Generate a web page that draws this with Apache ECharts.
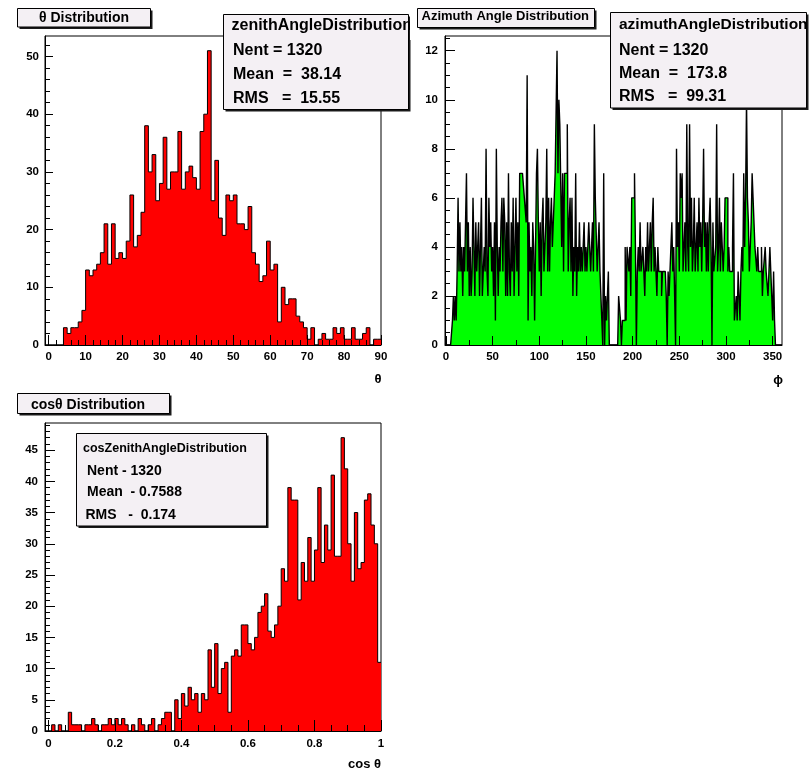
<!DOCTYPE html>
<html>
<head>
<meta charset="utf-8">
<title>Zenith and azimuth angle distributions</title>
<script src="https://cdn.jsdelivr.net/npm/echarts@6/dist/echarts.min.js"></script>
<style>
  html, body { margin: 0; padding: 0; background: #ffffff; }
  #chart { width: 812px; height: 770px; }
</style>
</head>
<body>
<div id="chart"></div>
<script>
// ---------------------------------------------------------------
// Histogram contents (one entry per bin, starting at the low edge)
// ---------------------------------------------------------------

// θ (zenith angle, degrees): 91 bins of 1° from -1 to 90
const thetaRange = [-1, 90];
const thetaBinWidth = 1;
const thetaCounts = [
  0,
  0, 0, 0, 0, 3, 2, 3, 3, 4, 6,
  13, 12, 13, 14, 16, 21, 14, 21, 15, 16,
  15, 18, 26, 17, 19, 23, 38, 30, 33, 25,
  28, 36, 27, 30, 30, 37, 27, 30, 31, 29,
  27, 37, 40, 51, 25, 32, 22, 19, 26, 25,
  26, 21, 21, 20, 24, 16, 14, 11, 12, 18,
  13, 14, 4, 10, 7, 8, 8, 5, 4, 3,
  1, 3, 0, 1, 2, 1, 1, 3, 2, 3,
  1, 1, 3, 1, 1, 2, 3, 0, 1, 1
];

// ϕ (azimuth angle, degrees): 361 bins of 1° from -1 to 360
const phiRange = [-1, 360];
const phiBinWidth = 1;
const phiCounts = [
  0,
  0, 0, 0, 0, 0, 0, 0, 1, 2, 1,
  2, 1, 3, 6, 3, 5, 3, 4, 2, 4,
  3, 5, 7, 3, 5, 2, 4, 2, 3, 6,
  4, 2, 5, 3, 4, 5, 2, 4, 6, 2,
  2, 4, 3, 8, 3, 2, 6, 4, 5, 3,
  4, 2, 5, 1, 8, 4, 2, 4, 3, 5,
  6, 3, 6, 5, 2, 5, 2, 7, 3, 2,
  5, 3, 6, 2, 4, 6, 3, 5, 2, 7,
  7, 7, 7, 7, 6, 6, 5, 11, 1, 5,
  3, 4, 2, 5, 4, 1, 4, 7, 8, 5,
  3, 5, 2, 5, 6, 3, 4, 5, 8, 3,
  6, 3, 5, 6, 4, 4, 6, 7, 7, 12,
  7, 10, 9, 9, 4, 7, 3, 7, 7, 7,
  9, 3, 5, 6, 3, 6, 2, 4, 3, 7,
  2, 4, 3, 5, 3, 4, 3, 4, 5, 3,
  4, 3, 3, 5, 4, 3, 4, 5, 3, 9,
  6, 6, 3, 4, 5, 3, 2, 2, 0, 7,
  0, 2, 1, 2, 3, 0, 0, 0, 0, 0,
  0, 0, 0, 0, 0, 2, 2, 1, 0, 1,
  1, 1, 4, 1, 4, 4, 3, 4, 2, 6,
  6, 6, 7, 4, 0, 3, 4, 3, 5, 3,
  3, 4, 3, 2, 4, 3, 5, 3, 4, 5,
  3, 5, 6, 3, 4, 3, 2, 4, 3, 3,
  3, 2, 3, 3, 3, 3, 2, 0, 3, 2,
  3, 3, 5, 3, 4, 2, 0, 8, 4, 5,
  3, 7, 6, 7, 3, 4, 5, 3, 9, 4,
  3, 9, 4, 6, 3, 4, 6, 3, 4, 5,
  3, 6, 4, 5, 3, 5, 8, 4, 5, 3,
  5, 3, 5, 6, 4, 0, 5, 3, 3, 4,
  9, 3, 4, 6, 3, 5, 4, 3, 4, 6,
  6, 6, 3, 4, 3, 3, 3, 4, 7, 1,
  1, 2, 1, 3, 2, 1, 3, 4, 3, 7,
  4, 6, 10, 6, 5, 3, 4, 5, 7, 6,
  6, 4, 4, 3, 4, 3, 3, 3, 4, 2,
  3, 3, 4, 3, 3, 2, 3, 4, 3, 3,
  1, 3, 1, 0, 0, 0, 0, 0, 0, 0
];

// cos θ: 101 bins of 0.01 from -0.01 to 1
const cosRange = [-0.01, 1];
const cosBinWidth = 0.01;
const cosCounts = [
  0,
  0, 1, 0, 1, 0, 0, 3, 1, 1, 1,
  0, 1, 1, 2, 1, 0, 1, 1, 2, 1,
  2, 1, 2, 1, 0, 1, 0, 2, 1, 0,
  1, 2, 0, 1, 2, 3, 3, 0, 5, 2,
  6, 4, 7, 5, 6, 3, 6, 5, 13, 7,
  14, 6, 10, 11, 3, 12, 13, 12, 17, 17,
  14, 13, 15, 19, 20, 22, 16, 15, 17, 20,
  26, 24, 39, 37, 37, 21, 27, 24, 31, 24,
  29, 39, 27, 33, 29, 41, 28, 28, 47, 42,
  30, 24, 35, 26, 27, 37, 38, 33, 30, 11
];

// Vertical ranges (1.05 × tallest bin) and axis ticks
const thetaYMax = 53.55, phiYMax = 12.6, cosYMax = 49.35;
const thetaXTicks = [0, 10, 20, 30, 40, 50, 60, 70, 80, 90];
const thetaYTicks = [0, 10, 20, 30, 40, 50];
const phiXTicks = [0, 50, 100, 150, 200, 250, 300, 350];
const phiYTicks = [0, 2, 4, 6, 8, 10, 12];
const cosXTicks = [0, 0.2, 0.4, 0.6, 0.8, 1];
const cosYTicks = [0, 5, 10, 15, 20, 25, 30, 35, 40, 45];

// Statistics box contents
const thetaStats = ['zenithAngleDistribution', 'Nent = 1320', 'Mean  =  38.14', 'RMS   =  15.55'];
const phiStats = ['azimuthAngleDistribution', 'Nent = 1320', 'Mean  =  173.8', 'RMS   =  99.31'];
const cosStats = ['cosZenithAngleDistribution', 'Nent - 1320', 'Mean  - 0.7588', 'RMS   -  0.174'];

// ---------------------------------------------------------------
// Helpers
// ---------------------------------------------------------------
function stepPoints(range, width, counts) {
  const pts = counts.map((c, i) => [range[0] + i * width, c]);
  pts.push([range[1], counts[counts.length - 1]]);
  return pts;
}
function tickRange(from, to, step) {
  const out = [];
  const n = Math.round((to - from) / step);
  for (let i = 0; i <= n; i++) out.push(+(from + i * step).toFixed(6));
  return out;
}

const FONT = '"Liberation Sans", Arial, Helvetica, sans-serif';
const LABEL = { fontFamily: FONT, fontWeight: 'bold', fontSize: 11.5, color: '#000' };

function axisPair(dim, gridIndex, min, max, majors, minors, majorLen, minorLen, margin) {
  const base = {
    type: 'value', gridIndex: gridIndex, min: min, max: max,
    position: dim === 'x' ? 'bottom' : 'left', z: 5,
    splitLine: { show: false }, splitArea: { show: false }
  };
  const major = Object.assign({}, base, {
    axisLine: { show: true, onZero: false, lineStyle: { color: '#000', width: 1 } },
    axisTick: { show: true, inside: true, length: majorLen, customValues: majors, lineStyle: { color: '#000', width: 1 } },
    axisLabel: Object.assign({ show: true, customValues: majors, margin: margin, formatter: v => String(v) }, LABEL)
  });
  const minor = Object.assign({}, base, {
    axisLine: { show: false, onZero: false },
    axisTick: { show: true, inside: true, length: minorLen, customValues: minors, lineStyle: { color: '#000', width: 1 } },
    axisLabel: { show: false }
  });
  return [major, minor];
}

function histSeries(axisIndex, range, width, counts, fill, lineWidth) {
  return {
    type: 'line', xAxisIndex: axisIndex, yAxisIndex: axisIndex,
    data: stepPoints(range, width, counts),
    step: 'end', symbol: 'none', showSymbol: false, clip: true, silent: true,
    lineStyle: { color: '#000', width: lineWidth },
    areaStyle: { color: fill, opacity: 1 },
    z: 2
  };
}

// Boxes with a drop shadow, as drawn for titles and statistics
function shadowBox(x, y, w, h, off, z) {
  return [
    { type: 'rect', z: z, shape: { x: x + off, y: y + off, width: w, height: h }, style: { fill: '#1a1a1a' } },
    { type: 'rect', z: z, shape: { x: x, y: y, width: w, height: h }, style: { fill: '#f4f0f4', stroke: '#000', lineWidth: 1 } }
  ];
}
function label(text, x, y, size, z, align) {
  return {
    type: 'text', z: z,
    style: { text: text, x: x, y: y, fill: '#000', font: 'bold ' + size + 'px ' + FONT,
             textAlign: align || 'left', textVerticalAlign: 'middle' }
  };
}

// ---------------------------------------------------------------
// Chart
// ---------------------------------------------------------------
const xAxes = [].concat(
  axisPair('x', 0, thetaRange[0], thetaRange[1], thetaXTicks, tickRange(0, 90, 2), 10, 5, 6),
  axisPair('x', 1, phiRange[0], phiRange[1], phiXTicks, tickRange(0, 350, 25), 9, 5, 6),
  axisPair('x', 2, cosRange[0], cosRange[1], cosXTicks, tickRange(0, 1, 0.05), 11, 6, 7)
);
const yAxes = [].concat(
  axisPair('y', 0, 0, thetaYMax, thetaYTicks, tickRange(0, 52, 2), 8, 5, 6),
  axisPair('y', 1, 0, phiYMax, phiYTicks, tickRange(0, 12.5, 0.5), 10, 5, 7),
  axisPair('y', 2, 0, cosYMax, cosYTicks, tickRange(0, 49, 1), 10, 5, 7)
);

const gridStyle = { show: true, borderColor: '#000', borderWidth: 1, backgroundColor: '#fff' };

const graphics = [].concat(
  // θ panel
  shadowBox(17.5, 8.5, 133, 18.5, 2, 10),
  [label('θ Distribution', 84, 18, 14, 10, 'center')],
  shadowBox(223.5, 14.5, 185, 95, 2, 10),
  [label(thetaStats[0], 231.5, 25.5, 16, 10),
   label(thetaStats[1], 233, 51, 16, 10),
   label(thetaStats[2], 233, 74.5, 16, 10),
   label(thetaStats[3], 233, 98.5, 16, 10)],
  // pad boundary between the two upper panels
  [{ type: 'rect', z: 11, shape: { x: 410, y: 0, width: 6, height: 40 }, style: { fill: '#fff' } }],
  // ϕ panel
  shadowBox(417.5, 8.5, 177, 19, 2, 12),
  [label('Azimuth Angle Distribution', 421.5, 16.5, 13, 12)],
  shadowBox(610.5, 12.5, 196, 95.5, 2, 12),
  [label(phiStats[0], 619, 25, 15.5, 12),
   label(phiStats[1], 619, 51, 16, 12),
   label(phiStats[2], 619, 73.5, 16, 12),
   label(phiStats[3], 619, 96.5, 16, 12)],
  // cos θ panel
  shadowBox(17.5, 393.5, 152, 20, 2, 10),
  [label('cosθ Distribution', 88, 405, 14, 10, 'center')],
  shadowBox(76.5, 433.5, 190, 92.5, 2, 10),
  [label(cosStats[0], 83, 449, 12.5, 10),
   label(cosStats[1], 87, 471, 14, 10),
   label(cosStats[2], 87, 492.5, 14, 10),
   label(cosStats[3], 85.5, 515.5, 14, 10)],
  // axis titles
  [label('θ', 378, 379, 13, 10, 'center'),
   label('ϕ', 778, 380, 13, 10, 'center'),
   label('cos θ', 381, 764, 13, 10, 'right')]
);

const option = {
  animation: false,
  backgroundColor: '#ffffff',
  grid: [
    Object.assign({ left: 45, top: 36, width: 336, height: 309 }, gridStyle),
    Object.assign({ left: 445, top: 36, width: 337, height: 309 }, gridStyle),
    Object.assign({ left: 45, top: 423, width: 336, height: 308 }, gridStyle)
  ],
  xAxis: xAxes,
  yAxis: yAxes,
  series: [
    histSeries(0, thetaRange, thetaBinWidth, thetaCounts, '#ff0000', 1),
    histSeries(2, phiRange, phiBinWidth, phiCounts, '#00ff00', 1.4),
    histSeries(4, cosRange, cosBinWidth, cosCounts, '#ff0000', 1)
  ],
  graphic: { elements: graphics }
};

const chart = echarts.init(document.getElementById('chart'), null, { renderer: 'canvas' });
chart.setOption(option);
</script>
</body>
</html>
